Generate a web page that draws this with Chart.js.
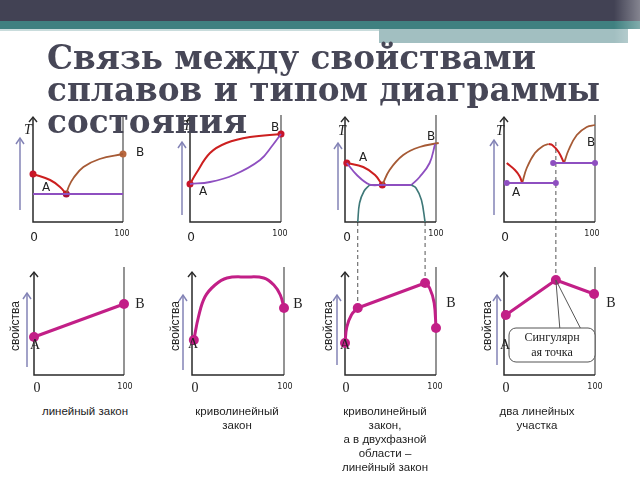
<!DOCTYPE html>
<html>
<head>
<meta charset="utf-8">
<script src="https://cdn.jsdelivr.net/npm/chart.js@4.4.1/dist/chart.umd.min.js"></script>
<style>
  html,body{margin:0;padding:0;background:#fff;}
  #slide{position:relative;width:640px;height:480px;overflow:hidden;background:#fff;font-family:"Liberation Sans",Arial,sans-serif;}
  .bar{position:absolute;}
  canvas{position:absolute;}
  #title{position:absolute;left:47px;top:42px;z-index:5;font-family:"DejaVu Serif",serif;font-weight:bold;
         font-size:32.7px;line-height:32px;color:#474757;white-space:nowrap;}
  .t{position:absolute;z-index:4;transform:translate(-50%,-50%);white-space:nowrap;color:#222;}
  .sans{font-family:"DejaVu Sans",sans-serif;font-size:12px;}
  .serif{font-family:"Liberation Serif",serif;font-size:14px;}
  .small{font-family:"DejaVu Sans",sans-serif;font-size:8px;}
  .Tl{font-family:"Liberation Serif",serif;font-style:italic;font-size:14px;}
  .vert{font-family:"Liberation Sans",sans-serif;font-size:12px;transform:translate(-50%,-50%) rotate(-90deg);}
  .cap{position:absolute;z-index:4;transform:translateX(-50%);text-align:center;white-space:nowrap;
       font-family:"Liberation Sans Narrow","Liberation Sans",sans-serif;font-size:11.5px;line-height:14px;color:#222;}
</style>
</head>
<body>
<div id="slide">
  <div class="bar" style="left:0;top:0;width:640px;height:21px;background:#424254"></div>
  <div class="bar" style="left:0;top:21px;width:640px;height:8px;background:#3f8080"></div>
  <div class="bar" style="left:0;top:29px;width:379px;height:2px;background:#c9dcdc"></div>
  <div class="bar" style="left:379px;top:29px;width:249px;height:14px;background:#a2bfc1"></div>
  <div class="bar" style="left:614px;top:0;width:26px;height:43px;background:linear-gradient(to right,rgba(255,255,255,0),rgba(255,255,255,0.35))"></div>

  <div id="title">Связь между свойствами<br>сплавов и типом диаграммы<br>состояния</div>

  <canvas id="c1"></canvas><canvas id="c2"></canvas><canvas id="c3"></canvas><canvas id="c4"></canvas>
  <canvas id="c5"></canvas><canvas id="c6"></canvas><canvas id="c7"></canvas><canvas id="c8"></canvas>

  <!-- labels of the top row -->
  <span class="t Tl" style="left:28px;top:130px">T</span>
  <span class="t Tl" style="left:187px;top:126px">T</span>
  <span class="t Tl" style="left:342px;top:131px">T</span>
  <span class="t Tl" style="left:500px;top:131px">T</span>
  <span class="t sans" style="left:46px;top:187px">A</span><span class="t sans" style="left:140px;top:152px">B</span>
  <span class="t sans" style="left:203px;top:191px">A</span><span class="t sans" style="left:275px;top:127px">B</span>
  <span class="t sans" style="left:363px;top:157px">A</span><span class="t sans" style="left:431px;top:136px">B</span>
  <span class="t sans" style="left:516px;top:192px">A</span><span class="t sans" style="left:591px;top:142px">B</span>
  <span class="t sans" style="left:34px;top:237px">0</span><span class="t small" style="left:122px;top:233px">100</span>
  <span class="t sans" style="left:191px;top:237px">0</span><span class="t small" style="left:280px;top:233px">100</span>
  <span class="t sans" style="left:347px;top:237px">0</span><span class="t small" style="left:436px;top:233px">100</span>
  <span class="t sans" style="left:505px;top:237px">0</span><span class="t small" style="left:592px;top:233px">100</span>

  <!-- labels of the bottom row -->
  <span class="t vert" style="left:15px;top:326px">свойства</span>
  <span class="t vert" style="left:175px;top:326px">свойства</span>
  <span class="t vert" style="left:328px;top:326px">свойства</span>
  <span class="t vert" style="left:487px;top:326px">свойства</span>
  <span class="t serif" style="left:35px;top:345px">A</span><span class="t serif" style="left:140px;top:304px">B</span>
  <span class="t serif" style="left:193px;top:344px">A</span><span class="t serif" style="left:298px;top:304px">B</span>
  <span class="t serif" style="left:345px;top:345px">A</span><span class="t serif" style="left:451px;top:303px">B</span>
  <span class="t serif" style="left:505px;top:345px">A</span><span class="t serif" style="left:611px;top:303px">B</span>
  <span class="t serif" style="left:37px;top:388px">0</span><span class="t small" style="left:125px;top:386px">100</span>
  <span class="t serif" style="left:195px;top:388px">0</span><span class="t small" style="left:285px;top:386px">100</span>
  <span class="t serif" style="left:346px;top:388px">0</span><span class="t small" style="left:435px;top:386px">100</span>
  <span class="t serif" style="left:506px;top:388px">0</span><span class="t small" style="left:595px;top:386px">100</span>

  <div class="cap" style="left:85px;top:404px">линейный закон</div>
  <div class="cap" style="left:237px;top:404px">криволинейный<br>закон</div>
  <div class="cap" style="left:385px;top:404px">криволинейный<br>закон,<br>а в двухфазной<br>области –<br>линейный закон</div>
  <div class="cap" style="left:537px;top:404px">два линейных<br>участка</div>
</div>

<script>
// composition (0-100) / height pairs
// panel 1: eutectic
const p1Liquidus_A = [[0,48],[19,42],[30,35],[37,28]];
const p1Liquidus_B = [[37,28],[40,36],[45,44],[56,55],[74,63],[100,68]];
const p1Solidus = [[0,28],[100,28]];
const p1Dots = [[0,48],[37,28],[100,68]];

// panel 2: solid solutions
const p2Liquidus = [[0,38],[7,49],[22,69],[40,79],[66,85],[100,88]];
const p2Solidus = [[0,38],[22,40],[48,47],[77,62],[91,77],[100,88]];
const p2Dots = [[0,38],[100,88]];

// panel 3: limited solubility
const p3Liquidus_A = [[2,59],[20,55],[33,47],[41,37]];
const p3Liquidus_B = [[41,37],[49,52],[64,67],[82,75],[103,79]];
const p3SolidusL = [[2,59],[13,47],[27,37.5],[41,37]];
const p3Eutectic = [[27,37],[73,37]];
const p3SolidusR = [[73,37],[82,45],[93,59],[99,78]];
const p3SolvusL = [[14,0],[16,19],[21,31],[27,37]];
const p3SolvusR = [[73,37],[78,34],[84,22],[88,0]];
const p3Dots = [[2,59],[41,37]];
const p3Guides = [14, 88];

// panel 4: chemical compound
const p4Liquidus1 = [[3,59],[12,52],[17,46],[20,39]];
const p4Liquidus2 = [[20,39],[25,54],[34,69],[43,76],[49,78]];
const p4Liquidus3 = [[49,78],[53,77],[60,70],[66,59]];
const p4Liquidus4 = [[66,59],[71,72],[80,87],[91,95],[100,97]];
const p4Eutectic1 = [[3,39],[57,39]];
const p4Eutectic2 = [[54,59],[100,59]];
const p4Guide = 57;

// property lines (bottom row)
const p5Prop = [[0,38],[100,71]];
const p6Prop = [[2,35],[7,58],[14,78],[25,90],[38,97],[59,98],[78,97],[89,90],[96,80],[100,67]];
const p6Dots = [[2,35],[100,67]];
const p7PropA = [[0,32],[2,48],[7,60],[14,67]];
const p7PropMid = [[14,67],[88,92]];
const p7PropB = [[88,92],[93,87],[98,72],[100,47]];
const p7Dots = [[0,32],[14,67],[88,92],[100,47]];
const p8Prop = [[2,60],[57,95],[99,81]];

const RED='#cc1f1f', BROWN='#a65a35', PURPLE='#8e4fc0', TEAL='#3e7878', MAG='#c21f87', ARROW='#8383b6';

function pts(a){ return a.map(p=>({x:p[0],y:p[1]})); }
function curve(a,color,w,tension){
  return {data:pts(a),showLine:true,borderColor:color,borderWidth:w,pointRadius:0,
          tension:tension===undefined?0.4:tension,clip:false,fill:false};
}
function dots(a,colors,r){
  return {data:pts(a),showLine:false,pointRadius:r,pointBackgroundColor:colors,
          pointBorderWidth:0,clip:false};
}

// draws axes, the little side arrow, dashed guides and the callout
const framePlugin = {
  id:'frame',
  beforeDatasetsDraw(chart,args,o){
    const c=chart.ctx, ca=chart.chartArea, xs=chart.scales.x, ys=chart.scales.y;
    c.save();
    // dashed guides
    (o.guides||[]).forEach(g=>{
      const x=xs.getPixelForValue(g.x), y=ys.getPixelForValue(g.y);
      c.strokeStyle='#555'; c.lineWidth=1; c.setLineDash([4,3]);
      c.beginPath(); c.moveTo(x,y); c.lineTo(x,g.down?chart.height:0); c.stroke();
    });
    c.setLineDash([]);
    // right vertical line
    c.strokeStyle='#5a5a5a'; c.lineWidth=1.3;
    c.beginPath(); c.moveTo(xs.getPixelForValue(100),ca.bottom); c.lineTo(xs.getPixelForValue(100),ys.getPixelForValue(o.rightTop)); c.stroke();
    // left + bottom axis
    c.strokeStyle='#2a2a2a'; c.lineWidth=1.5;
    const tip=ys.getPixelForValue(o.axisTop);
    c.beginPath(); c.moveTo(ca.left,tip); c.lineTo(ca.left,ca.bottom); c.lineTo(xs.getPixelForValue(100),ca.bottom); c.stroke();
    c.lineWidth=1.4;
    c.beginPath(); c.moveTo(ca.left-4,tip+5); c.lineTo(ca.left,tip); c.lineTo(ca.left+4,tip+5); c.stroke();
    // side arrow
    const ax=ca.left-o.arrow.dx, a0=ys.getPixelForValue(o.arrow.from), a1=ys.getPixelForValue(o.arrow.to);
    c.strokeStyle=ARROW; c.lineWidth=1.5;
    c.beginPath(); c.moveTo(ax,a0); c.lineTo(ax,a1); c.stroke();
    c.beginPath(); c.moveTo(ax-4,a1+6); c.lineTo(ax,a1); c.lineTo(ax+4,a1+6); c.stroke();
    c.restore();
  },
  afterDatasetsDraw(chart,args,o){
    if(!o.callout) return;
    const c=chart.ctx, ca=chart.chartArea, xs=chart.scales.x, ys=chart.scales.y;
    const px=xs.getPixelForValue(o.callout.x), py=ys.getPixelForValue(o.callout.y);
    const bl=ca.left+5, br=ca.left+91, bt=ca.bottom-47, bb=ca.bottom-13;
    c.save();
    c.strokeStyle='#555'; c.lineWidth=1;
    c.beginPath(); c.moveTo(px,py); c.lineTo(px+4,bt+1); c.moveTo(px,py); c.lineTo(px+25,bt+1); c.stroke();
    c.fillStyle='#fff';
    c.beginPath(); c.roundRect(bl,bt,br-bl,bb-bt,7); c.fill(); c.stroke();
    c.fillStyle='#222'; c.font='12px "Liberation Serif", serif'; c.textAlign='center'; c.textBaseline='middle';
    o.callout.text.forEach((t,i)=>c.fillText(t,(bl+br)/2,bt+10+i*15));
    c.restore();
  }
};

function panel(id,x0,x100,row,datasets,frame){
  const el=document.getElementById(id);
  const top=row===0?105:250, h=row===0?145:150;
  const padTop=row===0?12:20, padBottom=row===0?28:25;
  const padL=Math.min(40,x0), padR=30;
  const w=(x100-x0)+padL+padR;
  el.width=w; el.height=h;
  el.style.left=(x0-padL)+'px'; el.style.top=top+'px';
  el.style.width=w+'px'; el.style.height=h+'px';
  new Chart(el.getContext('2d'),{
    type:'scatter',
    data:{datasets:datasets},
    options:{
      responsive:false,animation:false,events:[],
      layout:{padding:{left:padL,right:padR,top:padTop,bottom:padBottom}},
      scales:{x:{type:'linear',min:0,max:100,display:false},y:{type:'linear',min:0,max:105,display:false}},
      plugins:{legend:{display:false},tooltip:{enabled:false},frame:frame}
    },
    plugins:[framePlugin]
  });
}

panel('c1',33,123,0,[
  curve(p1Solidus,PURPLE,2,0),
  curve(p1Liquidus_A,RED,2),
  curve(p1Liquidus_B,BROWN,1.8),
  dots(p1Dots,['#c8142a','#a8103c','#b8683e'],3.5)
],{rightTop:107,axisTop:105,arrow:{dx:13,from:12,to:84}});

panel('c2',190,281,0,[
  curve(p2Solidus,PURPLE,1.8),
  curve(p2Liquidus,RED,2),
  dots(p2Dots,['#c8142a','#c8142a'],3.5)
],{rightTop:107,axisTop:105,arrow:{dx:8,from:7,to:80}});

panel('c3',345,436,0,[
  curve(p3SolvusL,TEAL,1.6),
  curve(p3SolvusR,TEAL,1.6),
  curve(p3SolidusL,PURPLE,1.8),
  curve(p3Eutectic,PURPLE,1.8,0),
  curve(p3SolidusR,PURPLE,1.8),
  curve(p3Liquidus_B,BROWN,1.8),
  curve(p3Liquidus_A,RED,2),
  dots(p3Dots,['#c8142a','#c8142a'],3.5)
],{rightTop:107,axisTop:105,arrow:{dx:7,from:12,to:79},
   guides:p3Guides.map(x=>({x:x,y:0,down:true}))});

panel('c4',504,595,0,[
  curve(p4Eutectic1,PURPLE,1.8,0),
  curve(p4Eutectic2,PURPLE,1.8,0),
  curve(p4Liquidus1,RED,2),
  curve(p4Liquidus2,BROWN,1.8),
  curve(p4Liquidus3,RED,2),
  curve(p4Liquidus4,BROWN,1.8),
  dots(p4Eutectic1.concat(p4Eutectic2),PURPLE,3)
],{rightTop:107,axisTop:105,arrow:{dx:10,from:7,to:82},
   guides:[{x:p4Guide,y:80,down:true}]});

panel('c5',34,124,1,[
  curve(p5Prop,MAG,3,0),
  dots(p5Prop,MAG,5)
],{rightTop:108,axisTop:103,arrow:{dx:7,from:8,to:82}});

panel('c6',192,284,1,[
  curve(p6Prop,MAG,3,0.4),
  dots(p6Dots,MAG,5)
],{rightTop:108,axisTop:103,arrow:{dx:9,from:5,to:80}});

panel('c7',345,436,1,[
  curve(p7PropA,MAG,3),
  curve(p7PropMid,MAG,3,0),
  curve(p7PropB,MAG,3),
  dots(p7Dots,MAG,5)
],{rightTop:108,axisTop:103,arrow:{dx:8,from:10,to:80},
   guides:[{x:p7PropMid[0][0],y:p7PropMid[0][1]},{x:p7PropMid[1][0],y:p7PropMid[1][1]}]});

panel('c8',504,595,1,[
  curve(p8Prop,MAG,3,0),
  dots(p8Prop,MAG,5)
],{rightTop:108,axisTop:103,arrow:{dx:7,from:10,to:80},
   guides:[{x:p8Prop[1][0],y:p8Prop[1][1]}],
   callout:{x:p8Prop[1][0],y:p8Prop[1][1],text:['Сингулярн','ая точка']}});
</script>
</body>
</html>
